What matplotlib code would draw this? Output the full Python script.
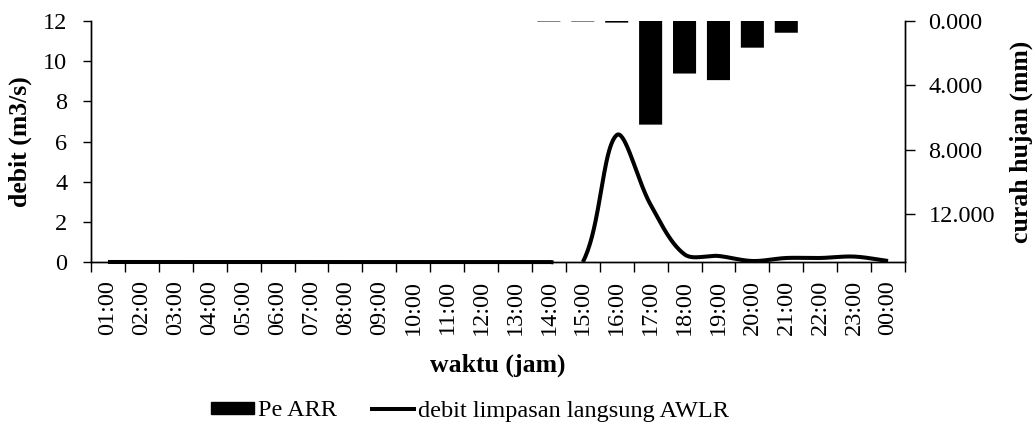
import numpy as np
import matplotlib
matplotlib.use("Agg")
import matplotlib.pyplot as plt
from matplotlib.patches import Patch
from matplotlib.lines import Line2D

plt.rcParams['font.family'] = ['Liberation Serif', 'DejaVu Serif']

# hourly time labels
jam = ["01:00", "02:00", "03:00", "04:00", "05:00", "06:00", "07:00", "08:00",
       "09:00", "10:00", "11:00", "12:00", "13:00", "14:00", "15:00", "16:00",
       "17:00", "18:00", "19:00", "20:00", "21:00", "22:00", "23:00", "00:00"]

# effective rainfall, ARR (mm)
pe_arr = [0, 0, 0, 0, 0, 0, 0, 0, 0, 0, 0, 0, 0, 0.03, 0.03, 0.10,
          6.45, 3.27, 3.68, 1.66, 0.73, 0, 0, 0]

# direct runoff discharge, AWLR (m3/s)
debit = [0, 0, 0, 0, 0, 0, 0, 0, 0, 0, 0, 0, 0, 0, 0, 6.32,
         2.85, 0.38, 0.30, 0.05, 0.20, 0.20, 0.27, 0.05]

FIG_W, FIG_H = 1036, 426
AX_L, AX_R, AX_T, AX_B = 91, 905, 21, 262


def smooth_curve(x, y, sx, sy, n=40):
    """Cubic Bezier smoothing through every point; control arms are
    weighted by the on-screen lengths of the neighbouring segments."""
    X = np.asarray(x, float) * sx
    Y = np.asarray(y, float) * sy
    m = len(X)
    cout = np.zeros((m, 2))
    cin = np.zeros((m, 2))
    for i in range(m):
        a = max(i - 1, 0)
        b = min(i + 1, m - 1)
        tx, ty = X[b] - X[a], Y[b] - Y[a]
        dp = np.hypot(X[i] - X[a], Y[i] - Y[a])
        dn = np.hypot(X[b] - X[i], Y[b] - Y[i])
        s = dp + dn if dp + dn > 0 else 1.0
        cout[i] = (X[i] + tx * dn / s / 3, Y[i] + ty * dn / s / 3)
        cin[i] = (X[i] - tx * dp / s / 3, Y[i] - ty * dp / s / 3)
    t = np.linspace(0, 1, n)
    xs, ys = [], []
    for i in range(m - 1):
        p0 = (X[i], Y[i])
        c1 = cout[i]
        c2 = cin[i + 1]
        p3 = (X[i + 1], Y[i + 1])
        for k, store in ((0, xs), (1, ys)):
            store.append((1 - t) ** 3 * p0[k] + 3 * (1 - t) ** 2 * t * c1[k]
                         + 3 * (1 - t) * t ** 2 * c2[k] + t ** 3 * p3[k])
    return np.concatenate(xs) / sx, np.concatenate(ys) / sy


fig = plt.figure(figsize=(FIG_W / 100, FIG_H / 100), dpi=100)
ax = fig.add_axes([AX_L / FIG_W, (FIG_H - AX_B) / FIG_H,
                   (AX_R - AX_L) / FIG_W, (AX_B - AX_T) / FIG_H])
ax2 = ax.twinx()

pos = np.arange(len(jam))

# rainfall bars hanging from the top (inverted right axis)
bars = ax2.bar(pos, pe_arr, width=0.68, color='black', linewidth=0, zorder=2)
for b in bars:
    b.set_snap(False)
ax2.set_ylim(15.0, 0)
ax2.set_yticks([0, 4, 8, 12])
ax2.set_yticklabels([f"{v:.3f}" for v in [0, 4, 8, 12]])

# smoothed discharge line; parts dipping below zero are hidden
px_per_x = (AX_R - AX_L) / len(jam)
px_per_y = (AX_B - AX_T) / 12
cx, cy = smooth_curve(pos, debit, px_per_x, px_per_y)
cy = np.where(cy < -0.02, np.nan, cy)
ax.plot(cx, cy, color='black', lw=2.9, solid_capstyle='butt', clip_on=False, zorder=5)
ax.set_zorder(ax2.get_zorder() + 1)
ax.patch.set_visible(False)

ax.set_xlim(-0.5, len(jam) - 0.5)
ax.set_ylim(0, 12)
ax.set_yticks(range(0, 13, 2))

ax.set_xticks(pos)
ax.set_xticklabels(jam, rotation=90)
ax.set_xticks(np.arange(-0.5, len(jam), 1.0), minor=True)
ax.tick_params(axis='x', which='major', length=0, pad=13)
ax.tick_params(axis='x', which='minor', length=7, width=1, direction='out')
ax.tick_params(axis='y', length=6, width=1, direction='out', pad=11)
ax2.tick_params(axis='y', length=7, width=1, direction='out', pad=10)

for a in (ax, ax2):
    a.spines['top'].set_visible(False)
    for s in a.spines.values():
        s.set_linewidth(1)
        s.set_color('black')
    a.tick_params(labelsize=17.5)

ax.set_xlabel("waktu (jam)", fontsize=18.5, fontweight='bold')
ax.xaxis.set_label_coords(0.5, -0.427)
ax.xaxis.label.set_va('center')
ax.set_ylabel("debit (m3/s)", fontsize=18.5, fontweight='bold')
ax.yaxis.set_label_coords(-0.087, 0.5)
ax.yaxis.label.set_va('center')
ax2.set_ylabel("curah hujan (mm)", fontsize=18.5, fontweight='bold', rotation=90)
ax2.yaxis.set_label_coords(1.143, 0.5)
ax2.yaxis.label.set_va('center')

handles = [Patch(facecolor='black', edgecolor='black'),
           Line2D([0], [0], color='black', lw=2.9)]
fig.legend(handles, ["Pe ARR", "debit limpasan langsung AWLR"],
           loc='center', bbox_to_anchor=(470 / FIG_W, 1 - 411 / FIG_H), ncol=2,
           frameon=False, fontsize=17.5, handlelength=1.75, handleheight=0.42,
           handletextpad=0.15, columnspacing=1.45)

fig.savefig("out.png", dpi=100)
